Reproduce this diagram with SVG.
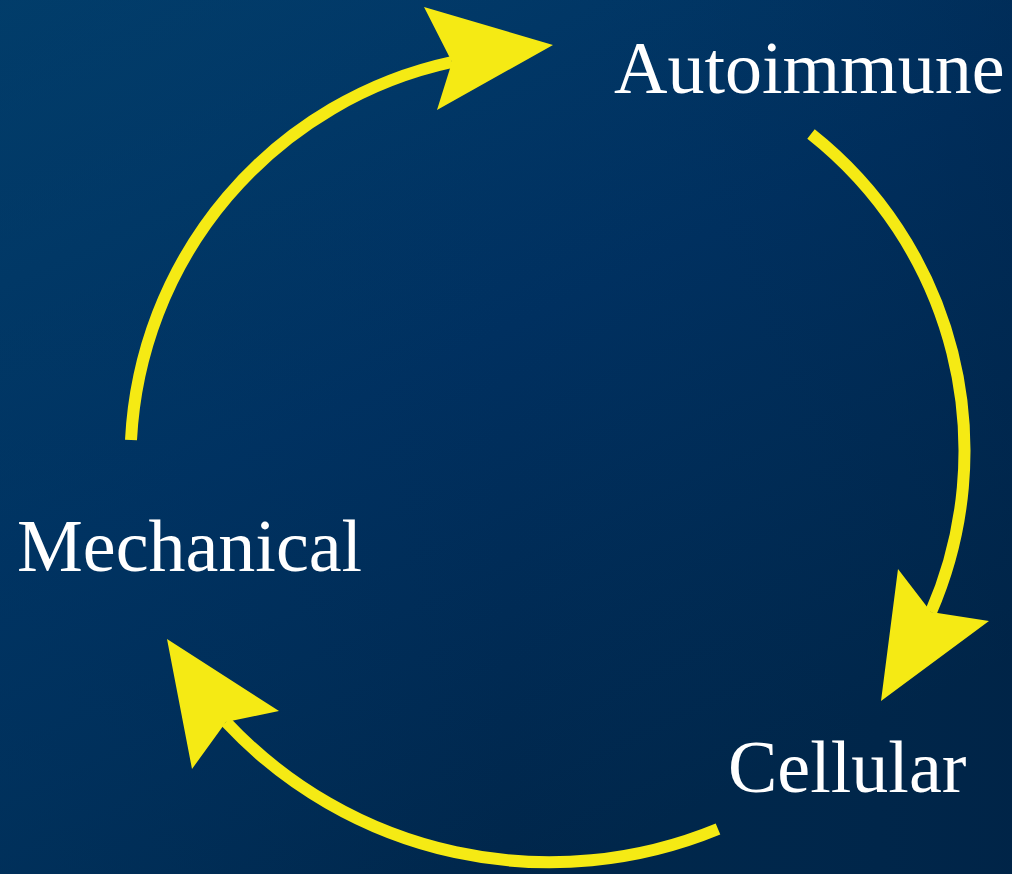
<svg xmlns="http://www.w3.org/2000/svg" width="1012" height="874" viewBox="0 0 1012 874">
  <defs>
    <linearGradient id="bg" x1="0" y1="0" x2="0.55" y2="1">
      <stop offset="0" stop-color="#023e6c"/>
      <stop offset="0.5" stop-color="#003060"/>
      <stop offset="1" stop-color="#00264a"/>
    </linearGradient>
    <linearGradient id="bg2" x1="0" y1="0" x2="1" y2="0">
      <stop offset="0" stop-color="#003a66" stop-opacity="0.35"/>
      <stop offset="0.5" stop-color="#003a66" stop-opacity="0"/>
      <stop offset="1" stop-color="#001f40" stop-opacity="0.25"/>
    </linearGradient>
  </defs>
  <style>
    .lbl { font-family: "Liberation Serif", "Times New Roman", serif; font-size: 74px; fill: #ffffff; }
    .arc { fill: none; stroke: #f5ea14; stroke-width: 12; stroke-linecap: butt; }
    .head { fill: #f5ea14; }
  </style>
  <rect x="0" y="0" width="1012" height="874" fill="url(#bg)"/>
  <rect x="0" y="0" width="1012" height="874" fill="url(#bg2)"/>

  <g id="connectors">
    <g id="arrow-mech-auto">
      <path class="arc" d="M 131 440 A 408 408 0 0 1 452 62"/>
      <polygon class="head" points="424,7 553,45 437,110 452,62"/>
    </g>
    <g id="arrow-auto-cell">
      <path class="arc" d="M 811 134 A 404 404 0 0 1 931 612"/>
      <polygon class="head" points="898,569 931,612 989,621 881,701"/>
    </g>
    <g id="arrow-cell-mech">
      <path class="arc" d="M 718 829 A 443 443 0 0 1 226 722"/>
      <polygon class="head" points="167,639 279,711 226,722 192,769"/>
    </g>
  </g>

  <g id="node-autoimmune">
    <text class="lbl" x="614" y="93">Autoimmune</text>
  </g>
  <g id="node-mechanical">
    <text class="lbl" x="17" y="571">Mechanical</text>
  </g>
  <g id="node-cellular">
    <text class="lbl" x="728" y="792">Cellular</text>
  </g>
</svg>
